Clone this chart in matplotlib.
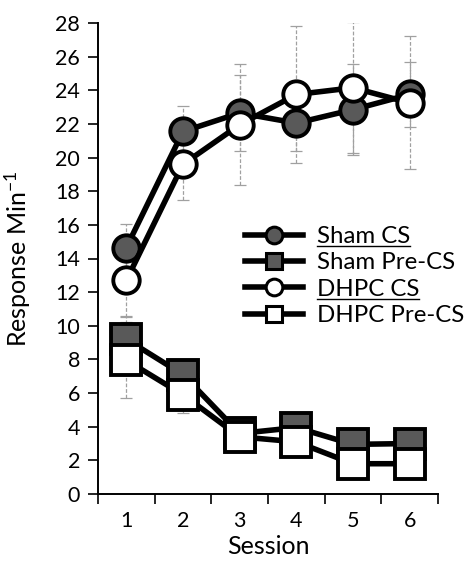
import matplotlib
matplotlib.use("Agg")
import matplotlib.pyplot as plt
from matplotlib.lines import Line2D

plt.rcParams["font.family"] = ["Lato", "DejaVu Sans"]
plt.rcParams["mathtext.fontset"] = "custom"
plt.rcParams["mathtext.rm"] = "Lato"
plt.rcParams["mathtext.default"] = "regular"

# data
sessions = [1, 2, 3, 4, 5, 6]
sham_cs = [14.65, 21.55, 22.65, 22.05, 22.85, 23.75]
sham_cs_err = [1.4, 1.5, 2.25, 1.65, 2.7, 1.95]
sham_pre = [9.2, 7.1, 3.6, 3.95, 2.95, 3.0]
sham_pre_err = [1.4, 0.8, 0.5, 0.6, 0.6, 0.6]
dhpc_cs = [12.7, 19.6, 21.95, 23.75, 24.15, 23.25]
dhpc_cs_err = [2.15, 2.15, 3.6, 4.1, 3.9, 3.95]
dhpc_pre = [7.95, 5.9, 3.4, 3.1, 1.8, 1.8]
dhpc_pre_err = [2.25, 1.1, 0.6, 0.7, 0.6, 0.6]

labels = ["Sham CS", "Sham Pre-CS", "DHPC CS", "DHPC Pre-CS"]
underlined = ["Sham CS", "DHPC CS"]
DARK = "#595959"

fig = plt.figure(figsize=(4.65, 5.69), dpi=100)
ax = fig.add_axes([98 / 465, 1 - 494 / 569, 340 / 465, 471 / 569])

series = [
    (sham_cs, sham_cs_err, "o", DARK, 19),
    (sham_pre, sham_pre_err, "s", DARK, 21),
    (dhpc_cs, dhpc_cs_err, "o", "white", 19),
    (dhpc_pre, dhpc_pre_err, "s", "white", 21),
]

# error bars underneath everything
for vals, err, m, fc, ms in series:
    eb = ax.errorbar(sessions, vals, yerr=err, fmt="none", ecolor="#a0a0a0",
                     elinewidth=0.9, capsize=4.5, capthick=0.9, zorder=1)
    for lc in eb[2]:
        lc.set_linestyle((0, (3, 1.5)))

for k, (vals, err, m, fc, ms) in enumerate(series):
    ax.plot(sessions, vals, color="black", lw=4, marker=m, markersize=ms,
            markerfacecolor=fc, markeredgecolor="black", markeredgewidth=2.8,
            zorder=3 + k)

ax.set_xlim(0.5, 6.5)
ax.set_ylim(0, 28)
ax.set_yticks(range(0, 29, 2))
ax.set_xticks([0.5 + i for i in range(7)])
ax.set_xticklabels([])
ax.set_xticks(sessions, minor=True)
ax.set_xticklabels([str(s) for s in sessions], minor=True)
ax.tick_params(axis="x", which="major", direction="out", length=7, width=1.2)
ax.tick_params(axis="x", which="minor", length=0, pad=12, labelsize=15.5)
ax.tick_params(axis="y", direction="out", length=7, width=1.2, pad=6, labelsize=15.5)
for s in ["top", "right"]:
    ax.spines[s].set_visible(False)
for s in ["left", "bottom"]:
    ax.spines[s].set_linewidth(1.4)

ax.set_xlabel("Session", fontsize=18, labelpad=3)
ax.set_ylabel("Response Min$^{-1}$", fontsize=18)
ax.yaxis.set_label_coords(-0.19, 0.5)

handles = [Line2D([], [], color="black", lw=4, marker=m, markersize=12,
                  markerfacecolor=fc, markeredgecolor="black", markeredgewidth=2.2)
           for vals, err, m, fc, ms in series]
leg = ax.legend(handles, labels, loc="center left",
                bbox_to_anchor=(245 / 465, 1 - 276 / 569),
                bbox_transform=fig.transFigure, frameon=False, fontsize=17.3,
                handlelength=2.4, handletextpad=0.6, labelspacing=0.22,
                borderpad=0, borderaxespad=0)

fig.canvas.draw()
r = fig.canvas.get_renderer()
W, H = fig.bbox.width, fig.bbox.height
for t in leg.get_texts():
    if t.get_text() in underlined:
        bb = t.get_window_extent(r)
        y = bb.y0 + 1
        fig.add_artist(Line2D([bb.x0 / W, bb.x1 / W], [y / H, y / H],
                              transform=fig.transFigure, color="black", lw=1.0))

fig.savefig("out.png", dpi=100)
